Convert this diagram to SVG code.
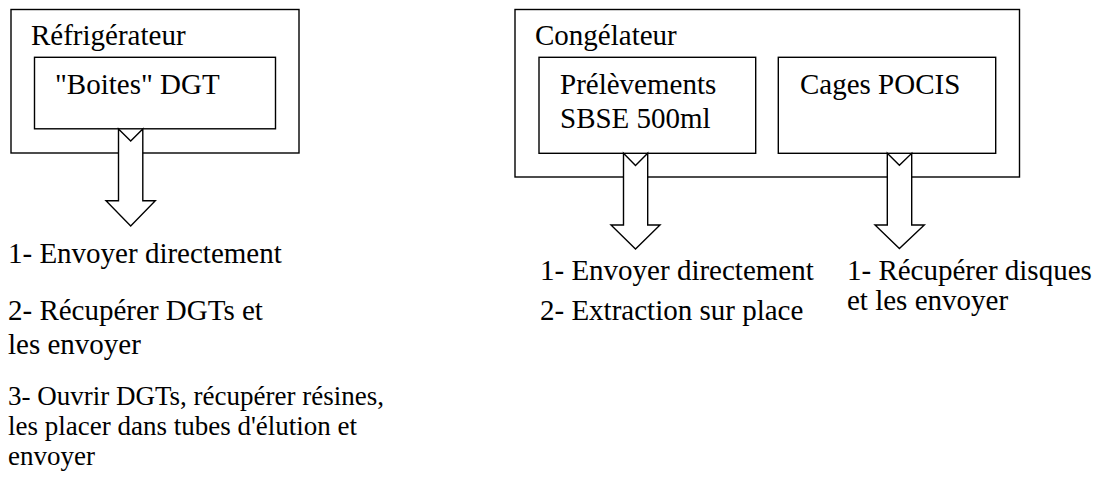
<svg xmlns="http://www.w3.org/2000/svg" width="1099" height="479" viewBox="0 0 1099 479">
<style>
  .box { fill: #fff; stroke: #000; stroke-width: 1.4; }
  .arrow { fill: #fff; stroke: #000; stroke-width: 1.4; stroke-linejoin: miter; }
  .t { font-family: 'Liberation Serif', 'Times New Roman', Times, 'DejaVu Serif', serif; font-size: 29px; fill: #000; }
  .s { font-size: 27px; }
</style>
<rect width="1099" height="479" fill="#fff"/>
<g id="refrigerateur">
  <rect class="box" x="11" y="9.5" width="288" height="143.5"/>
  <text class="t" x="31" y="45">Réfrigérateur</text>
</g>
<g id="boites-dgt">
  <rect class="box" x="34.5" y="57.3" width="241" height="71.5"/>
  <text class="t" x="55" y="94">"Boites" DGT</text>
</g>
<g id="congelateur">
  <rect class="box" x="515" y="9.5" width="504.5" height="167.5"/>
  <text class="t" x="535" y="45">Congélateur</text>
</g>
<g id="prelevements">
  <rect class="box" x="539" y="57.3" width="216.7" height="96"/>
  <text class="t" x="560" y="94">Prélèvements</text>
  <text class="t" x="560" y="128">SBSE 500ml</text>
</g>
<g id="cages-pocis">
  <rect class="box" x="778.3" y="57.3" width="217.4" height="96"/>
  <text class="t" x="800" y="94">Cages POCIS</text>
</g>
<g id="connectors">
  <path class="arrow" d="M118.5,129 L130.7,141 L142.8,129 L142.8,200.7 L155.3,200.7 L130.7,226 L106,200.7 L118.5,200.7 Z"/>
  <path class="arrow" d="M623.5,153.3 L635.5,165.5 L647.7,153.3 L647.7,225 L660,225 L635.5,249 L611,225 L623.5,225 Z"/>
  <path class="arrow" d="M887.3,153.3 L899.4,165.3 L911.7,153.3 L911.7,225 L924.3,225 L899.4,248.5 L875,225 L887.3,225 Z"/>
</g>
<g id="texts-left">
  <text class="t" x="8" y="263">1- Envoyer directement</text>
  <text class="t" x="8" y="320">2- Récupérer DGTs et</text>
  <text class="t" x="8" y="354">les envoyer</text>
  <text class="t s" x="8" y="405">3- Ouvrir DGTs, récupérer résines,</text>
  <text class="t s" x="8" y="435">les placer dans tubes d'élution et</text>
  <text class="t s" x="8" y="465">envoyer</text>
</g>
<g id="texts-mid">
  <text class="t" x="540" y="280">1- Envoyer directement</text>
  <text class="t" x="540" y="320">2- Extraction sur place</text>
</g>
<g id="texts-right">
  <text class="t" x="847" y="280">1- Récupérer disques</text>
  <text class="t" x="847" y="310">et les envoyer</text>
</g>
</svg>
